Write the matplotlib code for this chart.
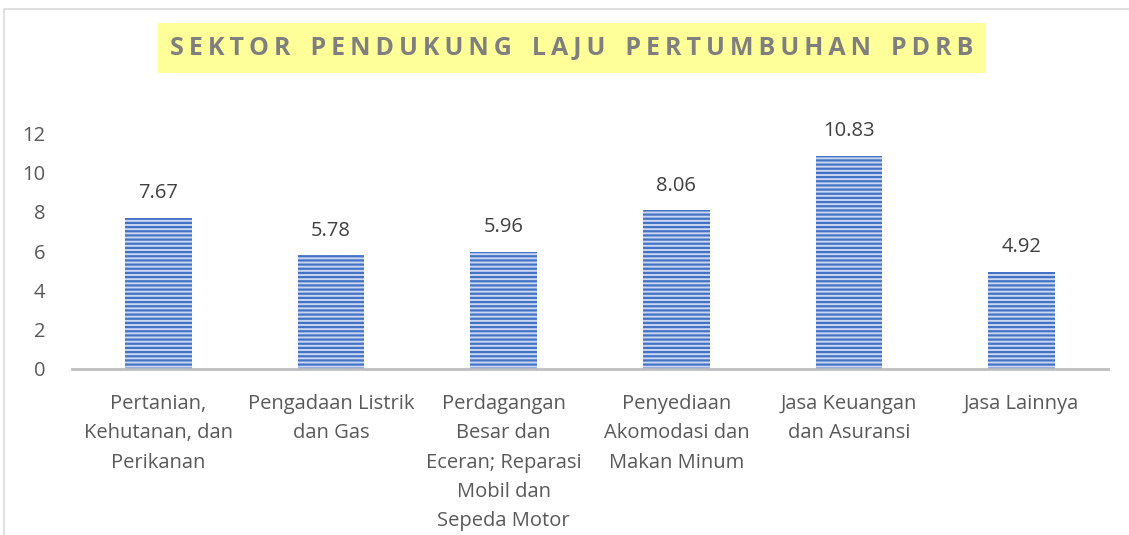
import matplotlib.pyplot as plt
from matplotlib.patches import Rectangle

# ── data ─────────────────────────────────────
categories = [
    "Pertanian,\nKehutanan, dan\nPerikanan",
    "Pengadaan Listrik\ndan Gas",
    "Perdagangan\nBesar dan\nEceran; Reparasi\nMobil dan\nSepeda Motor",
    "Penyediaan\nAkomodasi dan\nMakan Minum",
    "Jasa Keuangan\ndan Asuransi",
    "Jasa Lainnya",
]
values = [7.67, 5.78, 5.96, 8.06, 10.83, 4.92]
y_ticks = [0, 2, 4, 6, 8, 10, 12]
title = "SEKTOR PENDUKUNG LAJU PERTUMBUHAN PDRB"

# ── style ────────────────────────────────────
plt.rcParams["font.family"] = ["Open Sans", "DejaVu Sans"]
plt.rcParams["hatch.linewidth"] = 1.6
W, H = 1129, 535

fig = plt.figure(figsize=(W / 100, H / 100), dpi=100)
ax = fig.add_axes([72 / W, 1 - 369 / H, (1108 - 72) / W, (369 - 133) / H])

x = range(len(values))
ax.bar(x, values, width=0.385, color="#c9d7f0", edgecolor="#4472C4",
       hatch="----", linewidth=0)

for i, v in enumerate(values):
    ax.text(i, v + 0.75, f"{v:.2f}", ha="center", va="bottom",
            fontsize=14.5, color="#404040")

ax.set_xlim(-0.5, len(values) - 0.5)
ax.set_ylim(0, 12)
ax.set_yticks(y_ticks)
ax.set_yticklabels([str(t) for t in y_ticks], fontsize=14.5, color="#595959")
ax.set_xticks(list(x))
ax.set_xticklabels(categories, fontsize=14.5, color="#595959", linespacing=1.62,
                   va="top")
ax.tick_params(axis="both", length=0)
ax.tick_params(axis="y", pad=19)
ax.tick_params(axis="x", pad=18)

for s in ["top", "right", "left"]:
    ax.spines[s].set_visible(False)
ax.spines["bottom"].set_color("#BFBFBF")
ax.spines["bottom"].set_linewidth(2)

# chart frame (only top/left visible in the crop)
fig.patches.append(Rectangle((4 / W, -0.1), 1.2, 1 - 9 / H + 0.1,
                             transform=fig.transFigure, fill=False,
                             edgecolor="#D9D9D9", linewidth=1.2))

# spaced title on yellow box
fig.text(572 / W, 1 - 48 / H, "\u2009".join(title).replace("\u2009 \u2009", "\u2009\u2009\u2009\u2009"),
         ha="center", va="center", fontsize=18, fontweight="bold", color="#7F7F7F",
         bbox=dict(boxstyle="square,pad=0.5", facecolor="#FFFF99", edgecolor="none"))

fig.savefig("out.png", dpi=100)
